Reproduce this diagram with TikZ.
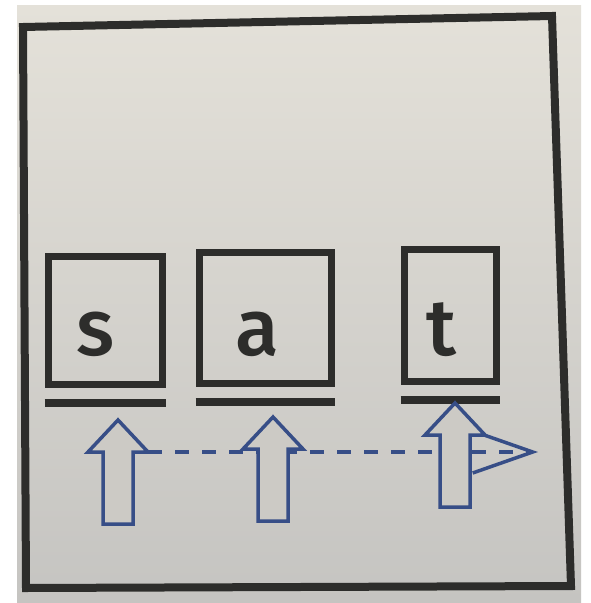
\documentclass[tikz,border=0pt]{standalone}
\usepackage{fontspec}
\newfontfamily\letterfont{Fira Sans}[UprightFont=* Medium]
\usetikzlibrary{arrows.meta}
\definecolor{paperhi}{RGB}{228,225,217}
\definecolor{paperlo}{RGB}{197,196,193}
\definecolor{paperfill}{RGB}{204,202,197}
\definecolor{inkgray}{RGB}{45,45,43}
\definecolor{pencilblue}{RGB}{55,78,135}
\tikzset{
  box/.style={draw=inkgray,line width=7pt,inner sep=0pt},
  letter/.style={anchor=base,inner sep=0pt,text=inkgray,
    font=\letterfont\fontsize{80}{80}\selectfont},
  underline/.style={draw=inkgray,line width=8pt},
  blockarrow/.style={draw=pencilblue,fill=paperfill,line width=3.5pt,line join=miter},
  guide/.style={draw=pencilblue,line width=3.5pt,dash pattern=on 14pt off 13pt,
    -{Straight Barb[length=60pt,width=42pt,line width=3.5pt]}},
  blockup/.pic={
    \draw[blockarrow] (0,0) -- (30,32) -- (15,32) -- (15,104)
      -- (-15,104) -- (-15,32) -- (-30,32) -- cycle;
    \coordinate (-hr) at (30,32);
  },
}
\begin{document}
\begin{tikzpicture}[x=1pt,y=-1pt]
\useasboundingbox (0,0) rectangle (590,603);
% paper and frame
\fill[white] (0,0) rectangle (590,603);
\shade[top color=paperhi,bottom color=paperlo] (17,5) rectangle (581,603);
\draw[inkgray,line width=8pt,line join=miter] (23,27) -- (552,16) -- (571,586) -- (26,588) -- cycle;

% letter boxes
\node[box,minimum width=114pt,minimum height=128pt] (s) at (105,320) {};
\node[box,minimum width=132pt,minimum height=131pt] (a) at (265,317.5) {};
\node[box,minimum width=92pt,minimum height=132pt] (t) at (450,315) {};
\node[letter] (ls) at (96,355) {s};
\node[letter] (la) at (257,355) {a};
\node[letter] (lt) at (441,355) {t};
\foreach \b in {s,a,t}
  \draw[underline] ([yshift=-15pt]\b.south west) -- ([yshift=-15pt]\b.south east);

% reading arrows
\coordinate (gend) at (538,452);
\draw[guide] (148,452) -- (gend);
\pic (u1) at (118,420) {blockup};
\pic (u2) at (273,417) {blockup};
\pic (u3) at (455,403) {blockup};
\end{tikzpicture}
\end{document}
